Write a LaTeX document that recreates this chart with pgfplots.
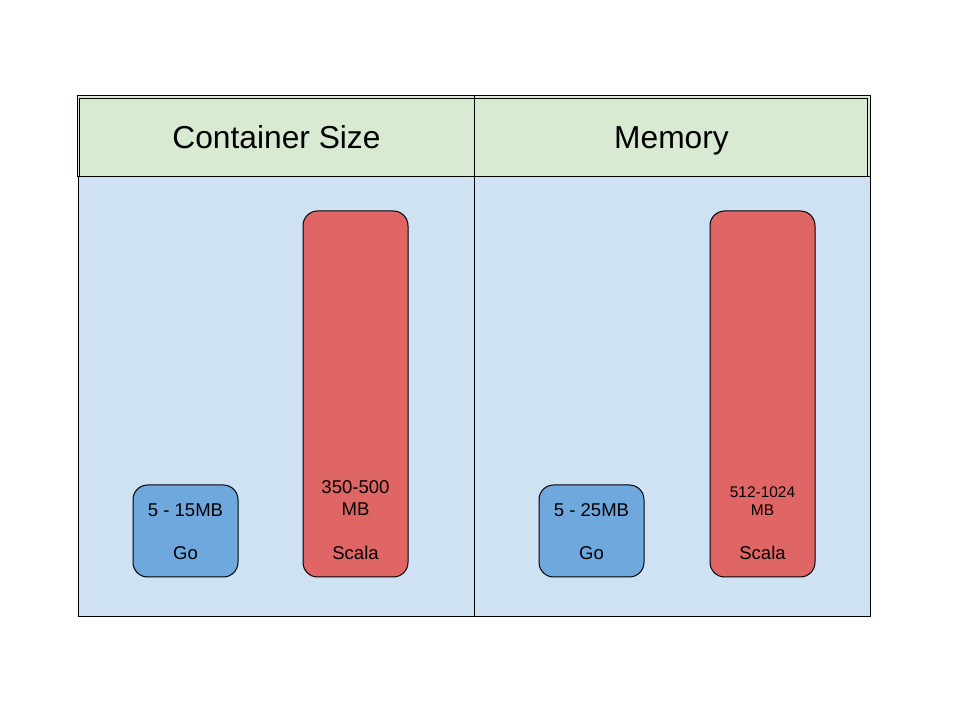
\documentclass[border=0pt]{standalone}
\usepackage{pgfplots}
\pgfplotsset{compat=1.18}
\usepackage{fontspec}
\setmainfont{Liberation Sans}
\definecolor{hdr}{HTML}{D9EAD3}
\definecolor{body}{HTML}{CFE2F3}
\definecolor{gobar}{HTML}{6FA8DC}
\definecolor{scbar}{HTML}{E06666}
\begin{document}
\begin{tikzpicture}
\begin{axis}[
  scale only axis, width=720pt, height=540pt,
  xmin=0, xmax=960, ymin=-143, ymax=577,
  axis lines=none, clip=false,
  ticks=none,
]
% background
\fill[white] (axis cs:0,-143) rectangle (axis cs:960,577);
% body panel
\fill[body] (axis cs:78,-40) rectangle (axis cs:870,400);
\draw[black, line width=0.75pt] (axis cs:78,-40) rectangle (axis cs:870,400);
% header panel (double border)
\fill[hdr] (axis cs:77,400) rectangle (axis cs:870,481);
\draw[black, line width=0.75pt] (axis cs:77,400) rectangle (axis cs:870,481);
\draw[black, line width=0.75pt] (axis cs:79.5,400) -- (axis cs:79.5,478.5) -- (axis cs:867.5,478.5) -- (axis cs:867.5,400);
% divider
\draw[black, line width=0.75pt] (axis cs:474,-40) -- (axis cs:474,481);
% headers
\node[font=\fontsize{23.8}{28}\selectfont, anchor=base, inner sep=0pt] at (axis cs:276.5,428.5) {Container Size};
\node[font=\fontsize{23.8}{28}\selectfont, anchor=base, inner sep=0pt] at (axis cs:671.5,428.5) {Memory};
% bars
\addplot[ybar, bar width=105, fill=gobar, draw=black, line width=0.75pt, rounded corners=11pt]
  coordinates {(185.5,92) (591.5,92)};
\addplot[ybar, bar width=105, fill=scbar, draw=black, line width=0.75pt, rounded corners=11pt]
  coordinates {(355.5,366) (762.5,366)};
% labels
\begin{scope}[every node/.style={font=\fontsize{13.9}{16}\selectfont, inner sep=0pt}]
\node at (axis cs:185.5,67) {5 - 15MB};
\node at (axis cs:185.5,24) {Go};
\node at (axis cs:355.5,90) {350-500};
\node at (axis cs:355.5,68) {MB};
\node at (axis cs:355.5,24) {Scala};
\node at (axis cs:591.5,67) {5 - 25MB};
\node at (axis cs:591.5,24) {Go};
\node[font=\fontsize{11.6}{14}\selectfont] at (axis cs:762.5,85) {512-1024};
\node[font=\fontsize{11.6}{14}\selectfont] at (axis cs:762.5,67) {MB};
\node at (axis cs:762.5,24) {Scala};
\end{scope}
\end{axis}
\end{tikzpicture}
\end{document}
